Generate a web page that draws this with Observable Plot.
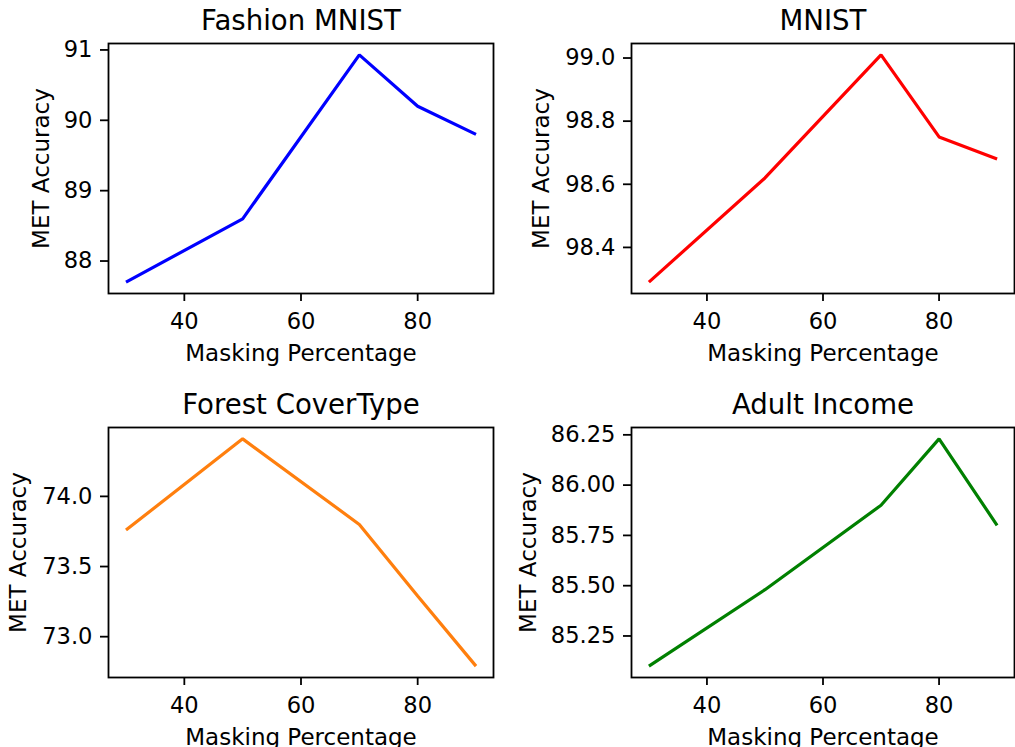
<!DOCTYPE html>
<html>
<head>
<meta charset="utf-8">
<script src="https://cdn.jsdelivr.net/npm/d3@7"></script>
<script src="https://cdn.jsdelivr.net/npm/@observablehq/plot@0.6"></script>
<style>
  html, body { margin: 0; padding: 0; background: #fff; overflow: hidden; }
  #fig { position: relative; width: 1015px; height: 747px; }
  .panel { position: absolute; }
  svg { overflow: visible; }
</style>
</head>
<body>
<div id="fig"></div>
<script>
// ---- data ----
const masking = [30, 50, 70, 80, 90];
const fashionAcc = [87.70, 88.60, 90.93, 90.20, 89.80];
const mnistAcc = [98.29, 98.62, 99.01, 98.75, 98.68];
const forestAcc = [73.76, 74.41, 73.80, 73.29, 72.79];
const adultAcc = [85.10, 85.48, 85.90, 86.23, 85.80];

const titles = ["Fashion MNIST", "MNIST", "Forest CoverType", "Adult Income"];
const xTicks = [40, 60, 80];
const fashionTicks = [88, 89, 90, 91];
const mnistTicks = [98.4, 98.6, 98.8, 99.0];
const forestTicks = [73.0, 73.5, 74.0];
const adultTicks = [85.25, 85.50, 85.75, 86.00, 86.25];
const xLabel = "Masking Percentage";
const yLabel = "MET Accuracy";

const panels = [
  {title: titles[0], acc: fashionAcc, ticks: fashionTicks, fmt: d3.format("d"), color: "#0000ff",
   left: 0, top: 0, width: 505, height: 380, mL: 108, mR: 12, mT: 43, mB: 87, titleDy: -14, ylDx: -60},
  {title: titles[1], acc: mnistAcc, ticks: mnistTicks, fmt: d3.format(".1f"), color: "#ff0000",
   left: 505, top: 0, width: 510, height: 380, mL: 126, mR: 1, mT: 43, mB: 87, titleDy: -14, ylDx: -83},
  {title: titles[2], acc: forestAcc, ticks: forestTicks, fmt: d3.format(".1f"), color: "#ff7f0e",
   left: 0, top: 380, width: 505, height: 367, mL: 108, mR: 12, mT: 47, mB: 70, titleDy: -13.5, ylDx: -83},
  {title: titles[3], acc: adultAcc, ticks: adultTicks, fmt: d3.format(".2f"), color: "#008000",
   left: 505, top: 380, width: 510, height: 367, mL: 126, mR: 1, mT: 47, mB: 70, titleDy: -13.5, ylDx: -96}
];

const fig = document.getElementById("fig");
const FONT = "DejaVu Sans";

for (const p of panels) {
  const data = masking.map((m, i) => ({m, a: p.acc[i]}));
  const xr = d3.extent(masking), yr = d3.extent(p.acc);
  const xpad = (xr[1] - xr[0]) * 0.05, ypad = (yr[1] - yr[0]) * 0.05;
  const chart = Plot.plot({
    width: p.width,
    height: p.height,
    marginLeft: p.mL,
    marginRight: p.mR,
    marginTop: p.mT,
    marginBottom: p.mB,
    style: {fontFamily: FONT, fontSize: "22.6px", color: "black", background: "transparent", overflow: "visible"},
    x: {domain: [xr[0] - xpad, xr[1] + xpad]},
    y: {domain: [yr[0] - ypad, yr[1] + ypad]},
    marks: [
      Plot.line(data, {x: "m", y: "a", stroke: p.color, strokeWidth: 3.2, strokeLinejoin: "miter", strokeLinecap: "butt"}),
      Plot.frame({stroke: "black", strokeWidth: 1.8}),
      Plot.axisX({ticks: xTicks, tickFormat: d3.format("d"), tickSize: 8, tickPadding: 11,
                  strokeWidth: 1.8, stroke: "black", fill: "black", fontSize: 22.6, label: null}),
      Plot.axisY({ticks: p.ticks, tickFormat: p.fmt, tickSize: 8, tickPadding: 8,
                  strokeWidth: 1.8, stroke: "black", fill: "black", fontSize: 22.6, label: null}),
      Plot.text([p.title], {text: d => d, frameAnchor: "top", dy: p.titleDy, lineAnchor: "bottom",
                            fontSize: 27.6, fill: "black"}),
      Plot.text([xLabel], {text: d => d, frameAnchor: "bottom", dy: 67, lineAnchor: "bottom",
                           fontSize: 23, fill: "black"}),
      Plot.text([yLabel], {text: d => d, frameAnchor: "left", dx: p.ylDx, rotate: -90, lineAnchor: "bottom",
                           textAnchor: "middle", fontSize: 23, fill: "black"})
    ]
  });
  const wrap = document.createElement("div");
  wrap.className = "panel";
  wrap.style.left = p.left + "px";
  wrap.style.top = p.top + "px";
  wrap.appendChild(chart);
  fig.appendChild(wrap);
}
</script>
</body>
</html>
